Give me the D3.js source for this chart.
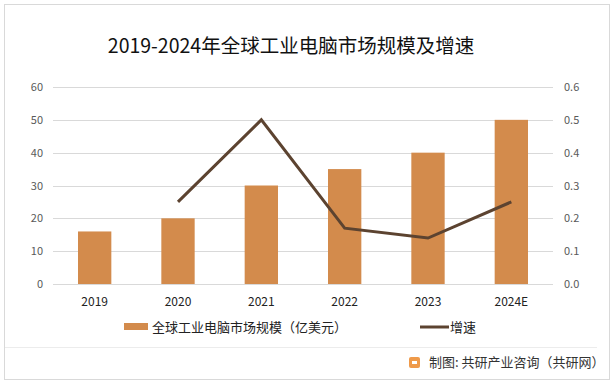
<!DOCTYPE html>
<html>
<head>
<meta charset="utf-8">
<script src="https://cdn.jsdelivr.net/npm/d3@7/dist/d3.min.js"></script>
<style>
  body { margin: 0; background: #fff; }
  text { font-family: "Microsoft YaHei", "Noto Sans CJK SC", sans-serif; }
</style>
</head>
<body>
<script>
// chart data
const years = ['2019', '2020', '2021', '2022', '2023', '2024E'];
const marketSize = [16, 20, 30, 35, 40, 50];
const growth = [null, 0.25, 0.5, 0.17, 0.14, 0.25];
const leftTicks = [0, 10, 20, 30, 40, 50, 60];
const rightTicks = [0, 0.1, 0.2, 0.3, 0.4, 0.5, 0.6];

const W = 616, H = 387;
const plot = { left: 53, right: 553, top: 87, bottom: 284 };

const svg = d3.select('body')
  .append('svg')
  .attr('width', W)
  .attr('height', H);

// outer frame
svg.append('rect')
  .attr('x', 4.5).attr('y', 4.5)
  .attr('width', 605).attr('height', 375)
  .attr('fill', '#fff')
  .attr('stroke', '#d9d9d9');

// title
svg.append('text')
  .attr('x', 291)
  .attr('y', 53)
  .attr('text-anchor', 'middle')
  .style('font-size', '19.5px')
  .style('fill', '#111')
  .text('2019-2024年全球工业电脑市场规模及增速');

const x = d3.scaleBand()
  .domain(years)
  .range([plot.left, plot.right])
  .paddingInner(0.6)
  .paddingOuter(0.3);

const y = d3.scaleLinear()
  .domain([0, 60])
  .range([plot.bottom, plot.top]);

const y2 = d3.scaleLinear()
  .domain([0, 0.6])
  .range([plot.bottom, plot.top]);

// gridlines
svg.append('g')
  .selectAll('line')
  .data(leftTicks)
  .join('line')
  .attr('x1', plot.left).attr('x2', plot.right)
  .attr('y1', d => Math.round(y(d)) + 0.5)
  .attr('y2', d => Math.round(y(d)) + 0.5)
  .attr('stroke', '#d9d9d9');

// left axis
const yAxis = d3.axisLeft(y).tickValues(leftTicks).tickSize(0).tickPadding(10);
svg.append('g')
  .attr('transform', `translate(${plot.left}, 0)`)
  .call(yAxis)
  .call(g => g.select('.domain').remove())
  .selectAll('text')
  .style('font-size', '11px')
  .style('fill', '#595959');

// right axis
const y2Axis = d3.axisRight(y2).tickValues(rightTicks).tickSize(0).tickPadding(11)
  .tickFormat(d3.format('.1f'));
svg.append('g')
  .attr('transform', `translate(${plot.right}, 0)`)
  .call(y2Axis)
  .call(g => g.select('.domain').remove())
  .selectAll('text')
  .style('font-size', '11px')
  .style('fill', '#595959');

// x axis
const xAxis = d3.axisBottom(x).tickSize(0).tickPadding(13);
svg.append('g')
  .attr('transform', `translate(0, ${plot.bottom})`)
  .call(xAxis)
  .call(g => g.select('.domain').remove())
  .selectAll('text')
  .style('font-size', '12px')
  .style('fill', '#222');

// bars
svg.selectAll('.bar')
  .data(years)
  .join('rect')
  .attr('class', 'bar')
  .attr('x', d => x(d))
  .attr('y', (d, i) => y(marketSize[i]))
  .attr('width', x.bandwidth())
  .attr('height', (d, i) => plot.bottom - y(marketSize[i]))
  .style('fill', '#d38b4c');

// growth line
const line = d3.line()
  .defined(d => d.v !== null)
  .x(d => x(d.year) + x.bandwidth() / 2)
  .y(d => y2(d.v));

svg.append('path')
  .datum(years.map((yr, i) => ({ year: yr, v: growth[i] })))
  .attr('d', line)
  .attr('fill', 'none')
  .attr('stroke', '#5c4330')
  .attr('stroke-width', 3);

// legend
const legend = svg.append('g');
legend.append('rect')
  .attr('x', 124).attr('y', 323)
  .attr('width', 24).attr('height', 7)
  .style('fill', '#d38b4c');
legend.append('text')
  .attr('x', 152).attr('y', 332)
  .style('font-size', '13px')
  .style('fill', '#222')
  .text('全球工业电脑市场规模（亿美元）');
legend.append('line')
  .attr('x1', 420).attr('x2', 449)
  .attr('y1', 327).attr('y2', 327)
  .attr('stroke', '#5c4330')
  .attr('stroke-width', 3);
legend.append('text')
  .attr('x', 450).attr('y', 332)
  .style('font-size', '13px')
  .style('fill', '#222')
  .text('增速');

// separator
svg.append('line')
  .attr('x1', 5).attr('x2', 597)
  .attr('y1', 347.5).attr('y2', 347.5)
  .attr('stroke', '#ececec');

// source footer
const logo = svg.append('g').attr('transform', 'translate(409, 357)');
logo.append('rect')
  .attr('width', 11).attr('height', 11).attr('rx', 2)
  .style('fill', '#ef9a4a');
logo.append('rect')
  .attr('x', 3).attr('y', 4)
  .attr('width', 5).attr('height', 3)
  .style('fill', '#fff');
svg.append('text')
  .attr('x', 429).attr('y', 367)
  .style('font-size', '13px')
  .style('fill', '#333')
  .text('制图: 共研产业咨询（共研网）');
</script>
</body>
</html>
